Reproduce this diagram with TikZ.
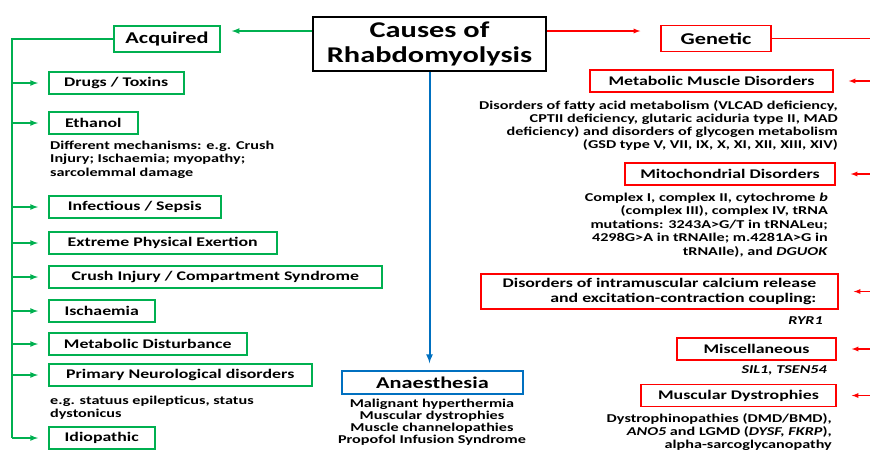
\documentclass[tikz,border=0pt]{standalone}
\usepackage{fontspec}
\setmainfont{Carlito}[FakeStretch=1.35]
\definecolor{acqgreen}{RGB}{0,176,80}
\definecolor{genred}{RGB}{255,0,0}
\definecolor{anablue}{RGB}{0,112,192}

\tikzset{
  cbox/.style={draw,line width=1.5pt,inner sep=0pt,minimum height=22pt,font=\fontsize{13.2}{15}\selectfont\bfseries},
  gbox/.style={cbox,draw=acqgreen},
  rbox/.style={cbox,draw=genred},
  head/.style={font=\fontsize{16.5}{18}\selectfont\bfseries,minimum height=26pt},
  note/.style={inner sep=0pt,font=\fontsize{12}{13.5}\selectfont\bfseries},
  garrow/.style={acqgreen,line width=1.6pt,-latex},
  rarrow/.style={genred,line width=1.3pt,-latex},
}

\begin{document}
\begin{tikzpicture}[x=1pt,y=-1pt]
        \useasboundingbox (0,0) rectangle (870,451);
        \clip (0,0) rectangle (870,451);
        \node[draw,line width=2.5pt,minimum width=233pt,minimum height=54pt,align=center,
          font=\fontsize{22.5}{25}\selectfont\bfseries] (title) at (429.5,44) {Causes of\\Rhabdomyolysis};
        % acquired side
        \node[gbox,head,minimum width=106pt] (acq) at (167,39) {Acquired};
        \coordinate (tw) at ([yshift=13pt]title.west);
        \draw[garrow,shorten >=11pt] (tw) -- (tw -| acq.east);
        \coordinate (trunk) at (12,39);
        \foreach \y/\w/\t [count=\i] in {83/135/{Drugs / Toxins},123/89/Ethanol,207/172/{Infectious / Sepsis},
            243/228/Extreme Physical Exertion,277/333/{Crush Injury / Compartment Syndrome},311/106/Ischaemia,
            344/198/Metabolic Disturbance,375/263/Primary Neurological disorders,438/106/Idiopathic}{
            \node[gbox,anchor=west,minimum width=\w pt] (a\i) at (48,\y) {\t};
            \draw[garrow,shorten >=10pt] (a\i.west -| trunk) -- (a\i.west);
        }
        \draw[acqgreen,line width=1.6pt] (acq.west) -- (trunk) -- (trunk |- a9.west);
        \node[note,anchor=base west,align=left] (ethnote) at (50,176)
          {Different mechanisms: e.g. Crush\\Injury; Ischaemia; myopathy;\\sarcolemmal damage};
        \node[note,anchor=base west,align=left,font=\fontsize{12}{12.5}\selectfont\bfseries] (neunote) at (50,417)
          {e.g. statuus epilepticus, status\\dystonicus};
        % genetic side
        \node[rbox,head,minimum width=110pt] (gen) at (716,38.5) {Genetic};
        \coordinate (te) at ([yshift=13pt]title.east);
        \draw[rarrow,shorten >=20pt] (te) -- (te -| gen.west);
        \coordinate (rtrunk) at (874,38.5);
        \draw[genred,line width=1.3pt] (gen.east) -- (rtrunk);
        \node[rbox,minimum width=243pt] (meta) at (711.5,81) {Metabolic Muscle Disorders};
        \node[rbox,minimum width=210pt] (mito) at (730,174) {Mitochondrial Disorders};
        \node[rbox,minimum width=357pt,minimum height=35pt,align=right] (calc) at (659.5,291.5)
          {Disorders of intramuscular calcium release\\and excitation-contraction coupling:};
        \node[rbox,minimum width=159pt] (misc) at (756.5,349) {Miscellaneous};
        \node[rbox,minimum width=195pt] (mdys) at (738.5,395.5) {Muscular Dystrophies};
        \foreach \b in {meta,mito,calc,misc,mdys}
            \draw[rarrow,shorten >=15pt] (rtrunk |- \b.east) -- (\b.east);
        \node[note,anchor=base east,align=right,font=\fontsize{12}{13}\selectfont\bfseries] (metanote) at (838,148)
          {Disorders of fatty acid metabolism (VLCAD deficiency,\\CPTII deficiency, glutaric aciduria type II, MAD\\
           deficiency) and disorders of glycogen metabolism\\(GSD type V, VII, IX, X, XI, XII, XIII, XIV)};
        \node[note,anchor=base east,align=right] (mitonote) at (828,255)
          {Complex I, complex II, cytochrome \textit{b}\\(complex III), complex IV, tRNA\\
           mutations: 3243A>G/T in tRNALeu;\\4298G>A in tRNAIle; m.4281A>G in\\tRNAIle), and \textit{DGUOK}};
        \node[note,anchor=base east] (calcnote) at (823,324) {\textit{RYR1}};
        \node[note,anchor=base east] (miscnote) at (827,373) {\textit{SIL1, TSEN54}};
        \node[note,anchor=base east,align=right,font=\fontsize{12}{13}\selectfont\bfseries] (mdysnote) at (832,448)
          {Dystrophinopathies (DMD/BMD),\\\textit{ANO5} and LGMD (\textit{DYSF, FKRP}),\\alpha-sarcoglycanopathy};
        % anaesthesia
        \node[cbox,draw=anablue,head,minimum width=181pt,minimum height=23pt] (anae) at (432.5,382.5) {Anaesthesia};
        \draw[anablue,line width=2pt,-latex,shorten >=7pt] (title.south) -- (title.south |- anae.north);
        \node[note,anchor=base,align=center,font=\fontsize{12}{11.7}\selectfont\bfseries] (anaenote) at (432,443)
          {Malignant hyperthermia\\Muscular dystrophies\\Muscle channelopathies\\Propofol Infusion Syndrome};
\end{tikzpicture}
\end{document}
